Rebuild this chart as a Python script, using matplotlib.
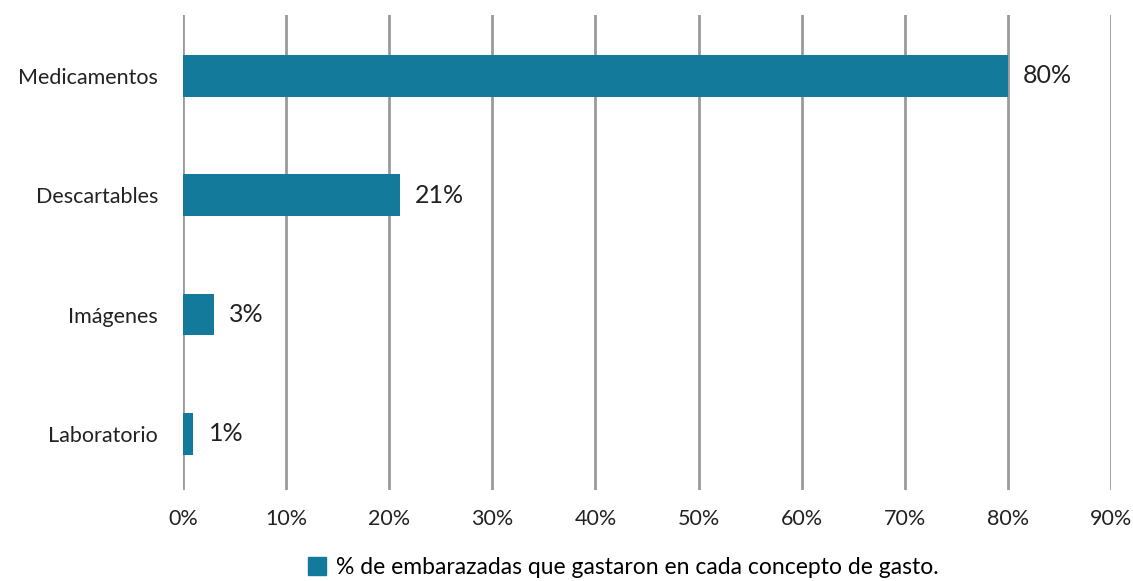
import matplotlib.pyplot as plt
from matplotlib.patches import Patch

plt.rcParams['font.family'] = ['Lato', 'DejaVu Sans']

# Data (bottom to top)
categories = ['Laboratorio', 'Imágenes', 'Descartables', 'Medicamentos']
values = [1, 3, 21, 80]
xticks = [0, 10, 20, 30, 40, 50, 60, 70, 80, 90]
legend_label = '% de embarazadas que gastaron en cada concepto de gasto.'
bar_color = '#137a9c'

fig = plt.figure(figsize=(11.33, 5.81), dpi=100)
ax = fig.add_axes([0.1615, 0.1566, 0.8191, 0.8176])

ypos = list(range(len(categories)))
ax.barh(ypos, values, height=0.35, color=bar_color, zorder=3)

for y, v in zip(ypos, values):
    ax.annotate(f'{v}%', (v, y), xytext=(11, 0), textcoords='offset points',
                va='center', ha='left', fontsize=18, color='#222222')

ax.set_xlim(0, 90)
ax.set_ylim(-0.47, 3.51)
ax.set_xticks(xticks)
ax.set_xticklabels([f'{t}%' for t in xticks], fontsize=15.5, color='#222222')
ax.set_yticks(ypos)
ax.set_yticklabels(categories, fontsize=15.5, color='#222222')
ax.tick_params(axis='x', length=0, pad=14)
ax.tick_params(axis='y', length=0, pad=18)

ax.grid(axis='x', color='#9a9a9a', linewidth=2, zorder=0)
for s in ax.spines.values():
    s.set_visible(False)

fig.legend(handles=[Patch(color=bar_color)], labels=[legend_label],
           loc='lower center', bbox_to_anchor=(0.55, -0.03), frameon=False,
           fontsize=16.5, handlelength=0.8, handleheight=0.8, handletextpad=0.4)

fig.savefig('out.png', dpi=100)
